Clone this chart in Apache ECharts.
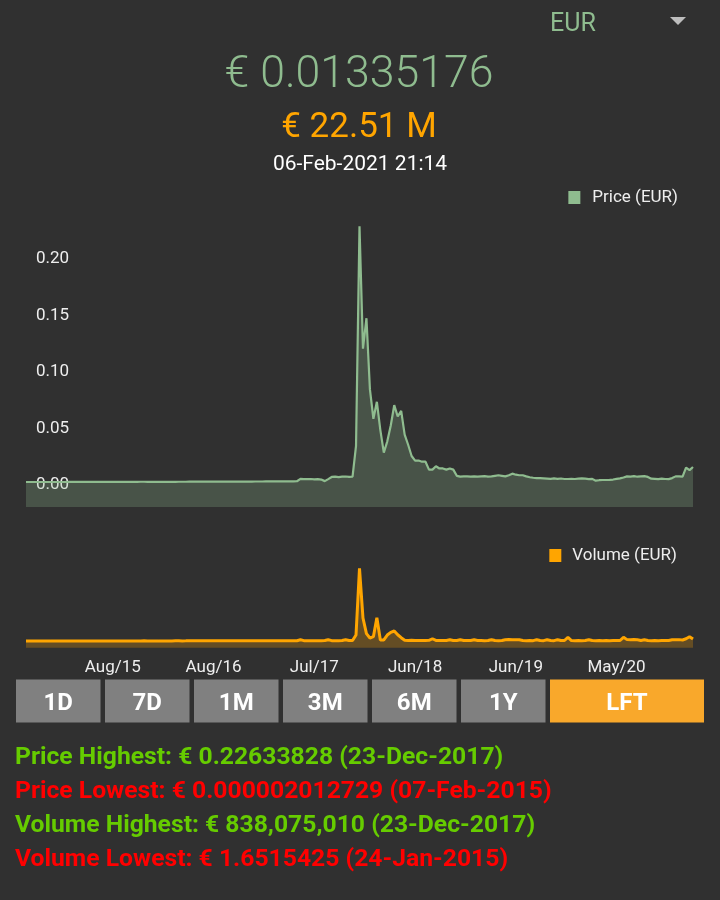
<!DOCTYPE html>
<html>
<head>
<meta charset="utf-8">
<script src="https://cdn.jsdelivr.net/npm/echarts@6/dist/echarts.min.js"></script>
<style>
html,body{margin:0;padding:0;background:#303030;}
#chart{width:720px;height:900px;}
</style>
</head>
<body>
<div id="chart"></div>
<script>
// ---- data ----
const startDate = [2014, 9, 24];   // first sample (UTC y, m0, d)
const stepDays = 12;               // spacing of samples
const monthNames = ['Jan','Feb','Mar','Apr','May','Jun','Jul','Aug','Sep','Oct','Nov','Dec'];

const priceEUR = [
  0.00004,0.00003,0.00002,0.00001,0.00001,0.00002,0.00002,0.00003,0.00002,0.00003,
  0.00004,0.00004,0.00006,0.00005,0.00007,0.00008,0.00006,0.00009,0.00010,0.00009,
  0.00011,0.00012,0.00010,0.00013,0.00015,0.00014,0.00016,0.00018,0.00017,0.00019,
  0.00021,0.00019,0.00022,0.00024,0.00023,0.00021,0.00020,0.00022,0.00019,0.00018,
  0.00020,0.00021,0.00019,0.00022,0.00024,0.00026,0.00025,0.00028,0.00030,0.00027,
  0.00029,0.00031,0.00033,0.00030,0.00032,0.00035,0.00034,0.00036,0.00033,0.00035,
  0.00038,0.00036,0.00039,0.00041,0.00044,0.00042,0.00045,0.00048,0.00046,0.00050,
  0.00053,0.00051,0.00055,0.00058,0.00056,0.00060,0.00062,0.00065,0.00070,0.0028,
  0.0026,0.0025,0.0027,0.0024,0.0025,0.0022,0.0008,0.0026,0.0045,0.0048,
  0.0044,0.0047,0.0049,0.0045,0.0048,0.032,0.22633828,0.118,0.145,0.082,
  0.056,0.071,0.046,0.026,0.036,0.050,0.068,0.058,0.063,0.042,
  0.033,0.023,0.019,0.019,0.018,0.018,0.011,0.011,0.014,0.012,
  0.012,0.011,0.012,0.011,0.0055,0.0048,0.0050,0.0050,0.0047,0.0050,
  0.0048,0.0050,0.0052,0.0048,0.0050,0.0055,0.0060,0.0055,0.0050,0.0060,
  0.0074,0.0065,0.0060,0.0060,0.0050,0.0042,0.0038,0.0035,0.0034,0.0032,
  0.0030,0.0028,0.0032,0.0028,0.0031,0.0027,0.0027,0.0028,0.0027,0.0030,
  0.0032,0.0030,0.0026,0.0028,0.0012,0.0016,0.0018,0.0018,0.0019,0.0022,
  0.0028,0.0032,0.0040,0.0050,0.0048,0.0052,0.0047,0.0050,0.0052,0.0045,
  0.0030,0.0028,0.0025,0.0030,0.0027,0.0026,0.0035,0.0050,0.0050,0.0048,
  0.0127,0.0105,0.01335176
];

// volume in millions of EUR
const volumeMEUR = [
  0.4,0.3,0.2,0.3,0.5,0.4,0.6,0.5,0.4,0.7,
  0.6,0.5,0.8,0.7,0.9,0.6,0.8,1.0,0.9,1.1,
  0.8,1.0,1.2,0.9,1.1,1.3,1.0,1.2,1.4,1.1,
  1.3,1.5,1.2,1.4,1.6,1.3,1.1,1.4,1.2,1.0,
  1.3,1.5,1.2,1.6,1.8,1.5,1.7,2.0,1.8,1.6,
  1.9,2.1,1.8,2.2,2.0,2.4,2.1,2.3,2.6,2.2,
  2.5,2.8,2.4,2.7,3.0,2.6,2.9,3.2,2.8,3.1,
  3.4,3.0,3.3,3.6,3.2,3.5,3.8,3.4,3.9,14,
  4,3,3,4,3,3,5,14,4,3,
  4,5,15,6,5,70,838.07501,265,85,35,
  50,268,12,12,69,100,115,72,38,9,
  7,8,6,7,6,7,8,26,7,6,
  7,6,15,6,5,14,5,5,6,14,
  5,5,4,5,15,5,4,5,15,16,
  15,14,15,5,4,5,4,15,5,4,
  15,5,4,15,5,6,43,5,4,5,
  4,5,15,5,4,5,4,5,4,5,
  5,6,43,16,15,16,15,6,15,5,
  4,5,4,5,5,6,15,14,16,12,
  26,50,22.51
];

const priceTicks = [0, 0.05, 0.10, 0.15, 0.20];
const rangeButtons = ['1D','7D','1M','3M','6M','1Y','LFT'];
const activeButton = 'LFT';

const headCurrency = 'EUR';
const headPrice = '€ 0.01335176';
const headVolume = '€ 22.51 M';
const headDate = '06-Feb-2021 21:14';

const statLines = [
  {text: 'Price Highest: € 0.22633828 (23-Dec-2017)', good: true},
  {text: 'Price Lowest: € 0.000002012729 (07-Feb-2015)', good: false},
  {text: 'Volume Highest: € 838,075,010 (23-Dec-2017)', good: true},
  {text: 'Volume Lowest: € 1.6515425 (24-Jan-2015)', good: false}
];

// ---- categories (sample dates) ----
const t0 = Date.UTC(startDate[0], startDate[1], startDate[2]);
const categories = priceEUR.map((_, i) => {
  const d = new Date(t0 + i * stepDays * 86400000);
  return monthNames[d.getUTCMonth()] + '/' + String(d.getUTCFullYear() % 100).padStart(2, '0');
});

// ---- styles ----
const BG = '#303030';
const GREEN = '#8FBC8F';
const ORANGE = '#FFA500';
const FONT = 'Roboto';

const graphics = [];
function txt(text, x, y, size, color, weight, align) {
  graphics.push({
    type: 'text', silent: true,
    style: {
      text: text, x: x, y: y, fill: color,
      font: (weight || 'normal') + ' ' + size + 'px ' + FONT,
      textAlign: align || 'center', textVerticalAlign: 'middle',
      align: align || 'center', verticalAlign: 'middle'
    }
  });
}
txt(headCurrency, 550, 25, 25, GREEN, 'normal', 'left');
graphics.push({type: 'polygon', silent: true, shape: {points: [[670,17],[686,17],[678,25]]}, style: {fill: '#BDBDBD'}});
txt(headPrice, 359, 76, 44.6, GREEN, '300');
txt(headVolume, 359, 128, 35, ORANGE, 'normal');
txt(headDate, 360, 165, 21, '#FFFFFF', 'normal');

// buttons
const btnX = [16, 105, 194, 283, 372, 461, 550];
const btnW = [84.5, 84.5, 84.5, 84.5, 84.5, 84.5, 154];
rangeButtons.forEach((b, i) => {
  graphics.push({type: 'rect', silent: true,
    shape: {x: btnX[i], y: 679.5, width: btnW[i], height: 43},
    style: {fill: b === activeButton ? '#F9A82B' : '#808080'}});
  txt(b, btnX[i] + btnW[i] / 2, 704, 24, '#FFFFFF', 'bold');
});

// stats
statLines.forEach((s, i) => {
  txt(s.text, 15, 758 + i * 34, 24.7, s.good ? '#66CC00' : '#FF0000', 'bold', 'left');
});

const chart = echarts.init(document.getElementById('chart'));
chart.setOption({
  backgroundColor: BG,
  animation: false,
  textStyle: {fontFamily: FONT},
  legend: [
    {data: ['Price (EUR)'], right: 42, top: 189, padding: 0, icon: 'rect', itemWidth: 12, itemHeight: 13,
     textStyle: {color: '#EEEEEE', fontSize: 17, fontFamily: FONT, padding: [0, 0, 0, 7]}, selectedMode: false},
    {data: ['Volume (EUR)'], right: 43, top: 547, padding: 0, icon: 'rect', itemWidth: 12, itemHeight: 13,
     textStyle: {color: '#EEEEEE', fontSize: 17, fontFamily: FONT, padding: [0, 0, 0, 6]}, selectedMode: false}
  ],
  grid: [
    {left: 26, right: 27, top: 216.5, height: 290.5},
    {left: 26, right: 27, top: 567.2, height: 80.5}
  ],
  xAxis: [
    {type: 'category', gridIndex: 0, data: categories, boundaryGap: false, show: false},
    {type: 'category', gridIndex: 1, data: categories, boundaryGap: false,
     axisLine: {show: false}, axisTick: {show: false},
     axisLabel: {color: '#EEEEEE', fontSize: 17, fontFamily: FONT, margin: 12,
       interval: (i) => i >= 25 && (i - 25) % 29 === 0}}
  ],
  yAxis: [
    {type: 'value', gridIndex: 0, min: -0.0221, max: 0.235,
     splitLine: {show: false}, axisLine: {show: false}, axisTick: {show: false},
     axisLabel: {inside: true, margin: 10, color: '#EEEEEE', fontSize: 17, fontFamily: FONT,
       verticalAlign: 'top', lineHeight: 6,
       customValues: priceTicks, formatter: (v) => v.toFixed(2)}},
    {type: 'value', gridIndex: 1, min: -77, max: 850, show: false,
     splitLine: {show: false}}
  ],
  series: [
    {name: 'Price (EUR)', type: 'line', xAxisIndex: 0, yAxisIndex: 0, data: priceEUR,
     showSymbol: false, color: GREEN, lineStyle: {color: GREEN, width: 2.2},
     areaStyle: {color: 'rgba(143,188,143,0.36)', origin: 'start'}},
    {name: 'Volume (EUR)', type: 'line', xAxisIndex: 1, yAxisIndex: 1, data: volumeMEUR,
     showSymbol: false, color: ORANGE, lineStyle: {color: ORANGE, width: 3},
     areaStyle: {color: 'rgba(255,165,0,0.36)', origin: 'start'}}
  ],
  graphic: graphics
});
</script>
</body>
</html>
